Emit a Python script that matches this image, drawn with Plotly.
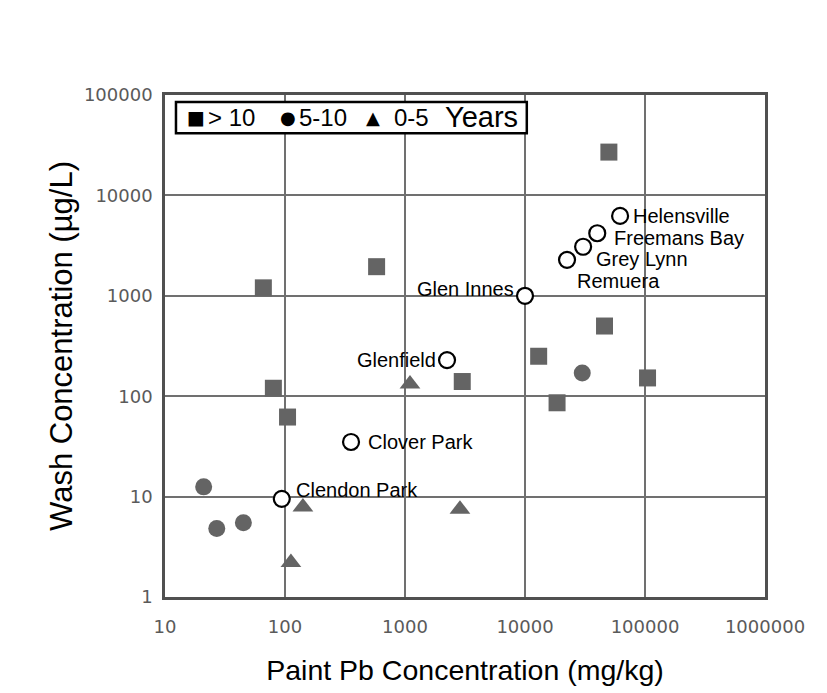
import math
import plotly.graph_objects as go

# ---- data ----
old_x = [50000, 66, 580, 80, 105, 3000, 13000, 18500, 46000, 105000]
old_y = [27000, 1200, 1950, 120, 62, 140, 250, 86, 500, 152]

mid_x = [21, 27, 45, 30000]
mid_y = [12.5, 4.8, 5.5, 170]

new_x = [141, 112, 2870, 1100]
new_y = [7.9, 2.2, 7.5, 132]

site_names = ["Helensville", "Freemans Bay", "Grey Lynn", "Remuera",
              "Glen Innes", "Glenfield", "Clover Park", "Clendon Park"]
site_x = [62000, 40000, 30500, 22400, 10000, 2240, 355, 94]
site_y = [6250, 4200, 3080, 2280, 1000, 229, 35, 9.5]

x_tickvals = [10, 100, 1000, 10000, 100000, 1000000]
x_ticktext = ["10", "100", "1000", "10000", "100000", "1000000"]
y_tickvals = [1, 10, 100, 1000, 10000, 100000]
y_ticktext = ["1", "10", "100", "1000", "10000", "100000"]

legend_items = ["■", "&gt; 10", "●", "5-10", "▲", "0-5", "Years"]

# label placement styles (anchor, xshift, yshift) per site
label_style = [("left", 11, 0), ("left", 15, -5), ("left", 11, -12), ("left", 8, -21),
               ("right", -9, 7), ("right", -9, 0), ("left", 15, 0), ("left", 12, 9)]

GRAY = "#646464"
FONT = "Liberation Sans, Arial"

fig = go.Figure()
fig.add_trace(go.Scatter(x=old_x, y=old_y, mode="markers", name="> 10",
                         marker=dict(symbol="square", size=17, color=GRAY)))
fig.add_trace(go.Scatter(x=mid_x, y=mid_y, mode="markers", name="5-10",
                         marker=dict(symbol="circle", size=17, color=GRAY)))
fig.add_trace(go.Scatter(x=new_x, y=new_y, mode="markers", name="0-5",
                         marker=dict(symbol="triangle-up", size=18, color=GRAY)))
fig.add_trace(go.Scatter(x=site_x, y=site_y, mode="markers", name="sites",
                         marker=dict(symbol="circle", size=16, color="white",
                                     line=dict(color="black", width=2.2))))

# annotations on log axes take log10 positions
for name, sx, sy, (anc, xs, ys) in zip(site_names, site_x, site_y, label_style):
    fig.add_annotation(x=math.log10(sx), y=math.log10(sy), xref="x", yref="y",
                       text=name, showarrow=False,
                       xanchor=anc, yanchor="middle", xshift=xs, yshift=ys,
                       font=dict(family=FONT, size=20, color="black"))

# legend box (drawn as a key in the upper-left corner)
fig.add_shape(type="rect", xref="paper", yref="paper",
              x0=0.0183, x1=0.603, y0=0.924, y1=0.986,
              line=dict(color="black", width=2.5), fillcolor="white", layer="above")
legend_left = [0.033, 0.0683, 0.188, 0.22, 0.332, 0.378, 0.463]
legend_sizes = [19, 24, 18, 24, 18, 24, 29]
legend_fonts = ["DejaVu Sans", FONT, "DejaVu Sans", FONT, "DejaVu Sans", FONT, FONT]
for txt, lx, fs, ff in zip(legend_items, legend_left, legend_sizes, legend_fonts):
    fig.add_annotation(xref="paper", yref="paper", x=lx, y=0.956, xanchor="left",
                       yanchor="middle", text=txt, showarrow=False,
                       font=dict(family=ff, size=fs, color="black"))

axis_common = dict(type="log", showgrid=True, gridcolor="#707070", gridwidth=1.5,
                   showline=True, linecolor="#505050", linewidth=2.5, mirror=True,
                   ticks="", zeroline=False,
                   tickfont=dict(family="DejaVu Sans", size=18, color="#5a5a5a"))

fig.update_xaxes(range=[1, 6], tickvals=x_tickvals, ticktext=x_ticktext,
                 ticklabelstandoff=12,
                 title=dict(text="Paint Pb Concentration (mg/kg)", standoff=24,
                            font=dict(family=FONT, size=28.5, color="black")),
                 **axis_common)
fig.update_yaxes(range=[0, 5], tickvals=y_tickvals, ticktext=y_ticktext,
                 ticklabelstandoff=6,
                 title=dict(text="Wash Concentration (µg/L)", standoff=3,
                            font=dict(family=FONT, size=31, color="black")),
                 **axis_common)

fig.update_layout(width=827, height=693, showlegend=False,
                  margin=dict(l=165, r=62, t=95, b=96),
                  paper_bgcolor="white", plot_bgcolor="white")

fig.write_html("out.html")
